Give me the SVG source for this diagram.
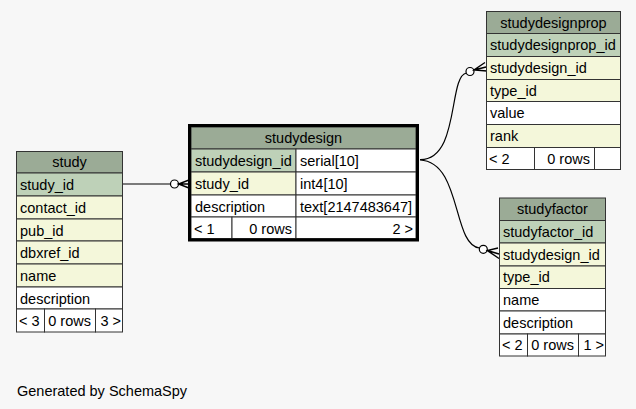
<svg xmlns="http://www.w3.org/2000/svg" width="636" height="409" viewBox="0 0 636 409">
<style>
.t{font-family:"Liberation Sans",Arial,sans-serif;font-size:14.5px;fill:#000}
.m{text-anchor:middle}
.e{text-anchor:end}
.c{stroke:#333;stroke-width:1}
.h{fill:#9bab96}
.p{fill:#bed1b8}
.f{fill:#f4f7da}
.w{fill:#ffffff}
.edge{fill:none;stroke:#000;stroke-width:1.2}
.dot{fill:#fff;stroke:#000;stroke-width:1.2}
.crow{fill:none;stroke:#000;stroke-width:1.4}
</style>
<rect x="0" y="0" width="636" height="409" fill="#f7f7f7"/>

<g id="connectors">
  <path class="edge" d="M123,184 L170.5,184"/>
  <circle class="dot" cx="174.5" cy="184" r="4"/>
  <path class="crow" d="M189,180 L178.5,184 L189,188 M178.5,184 L189,184"/>

  <path class="edge" d="M420,159.5 C460,160 448,76 466.5,73"/>
  <circle class="dot" cx="470" cy="71.5" r="4"/>
  <path class="crow" d="M485,62.5 L474,70 L487,71 M474,70 L486,67"/>

  <path class="edge" d="M420,160 C462,162 452,245 479.5,248"/>
  <circle class="dot" cx="483.3" cy="249.3" r="4"/>
  <path class="crow" d="M498,248 L487.3,250.5 L499,258.5 M487.3,250.5 L499,254"/>
</g>

<g id="study">
  <rect class="c h" x="16.5" y="151.5" width="106" height="21.5"/>
  <rect class="c p" x="16.5" y="173" width="106" height="23"/>
  <rect class="c f" x="16.5" y="196" width="106" height="23"/>
  <rect class="c f" x="16.5" y="219" width="106" height="22"/>
  <rect class="c f" x="16.5" y="241" width="106" height="23"/>
  <rect class="c f" x="16.5" y="264" width="106" height="23"/>
  <rect class="c w" x="16.5" y="287" width="106" height="22"/>
  <rect class="c w" x="16.5" y="309" width="28" height="23"/>
  <rect class="c w" x="44.5" y="309" width="51" height="23"/>
  <rect class="c w" x="95.5" y="309" width="27" height="23"/>
  <text class="t m" x="69.5" y="167">study</text>
  <text class="t" x="20" y="190">study_id</text>
  <text class="t" x="20" y="213">contact_id</text>
  <text class="t" x="20" y="235.5">pub_id</text>
  <text class="t" x="20" y="258">dbxref_id</text>
  <text class="t" x="20" y="281">name</text>
  <text class="t" x="20" y="303.5">description</text>
  <text class="t" x="19" y="326">&lt; 3</text>
  <text class="t e" x="91" y="326">0 rows</text>
  <text class="t e" x="121" y="326">3 &gt;</text>
</g>

<g id="studydesign">
  <rect class="c h" x="191" y="127" width="225" height="22"/>
  <rect class="c p" x="191" y="149" width="105" height="23"/>
  <rect class="c w" x="296" y="149" width="120" height="23"/>
  <rect class="c f" x="191" y="172" width="105" height="23"/>
  <rect class="c w" x="296" y="172" width="120" height="23"/>
  <rect class="c w" x="191" y="195" width="105" height="22"/>
  <rect class="c w" x="296" y="195" width="120" height="22"/>
  <rect class="c w" x="191" y="217" width="41" height="21.5"/>
  <rect class="c w" x="232" y="217" width="64" height="21.5"/>
  <rect class="c w" x="296" y="217" width="120" height="21.5"/>
  <rect x="189.5" y="125.5" width="228" height="114.5" fill="none" stroke="#000" stroke-width="3"/>
  <text class="t m" x="303.5" y="143">studydesign</text>
  <text class="t" x="195" y="166">studydesign_id</text>
  <text class="t" x="300" y="166">serial[10]</text>
  <text class="t" x="195" y="189">study_id</text>
  <text class="t" x="300" y="189">int4[10]</text>
  <text class="t" x="195" y="211.5">description</text>
  <text class="t" x="300" y="211.5">text[2147483647]</text>
  <text class="t" x="194" y="233.5">&lt; 1</text>
  <text class="t e" x="292" y="233.5">0 rows</text>
  <text class="t e" x="413" y="233.5">2 &gt;</text>
</g>

<g id="studydesignprop">
  <rect class="c h" x="486.5" y="11.5" width="134" height="22"/>
  <rect class="c p" x="486.5" y="33.5" width="134" height="23"/>
  <rect class="c f" x="486.5" y="56.5" width="134" height="23"/>
  <rect class="c f" x="486.5" y="79.5" width="134" height="22"/>
  <rect class="c w" x="486.5" y="101.5" width="134" height="23"/>
  <rect class="c f" x="486.5" y="124.5" width="134" height="23"/>
  <rect class="c w" x="486.5" y="147.5" width="48" height="22"/>
  <rect class="c w" x="534.5" y="147.5" width="60" height="22"/>
  <rect class="c w" x="594.5" y="147.5" width="26" height="22"/>
  <text class="t m" x="553.5" y="27.5">studydesignprop</text>
  <text class="t" x="490" y="50">studydesignprop_id</text>
  <text class="t" x="490" y="73">studydesign_id</text>
  <text class="t" x="490" y="95.5">type_id</text>
  <text class="t" x="490" y="118">value</text>
  <text class="t" x="490" y="141">rank</text>
  <text class="t" x="489" y="163.5">&lt; 2</text>
  <text class="t e" x="590" y="163.5">0 rows</text>
</g>

<g id="studyfactor">
  <rect class="c h" x="499.5" y="198" width="106" height="22.5"/>
  <rect class="c p" x="499.5" y="220.5" width="106" height="22.5"/>
  <rect class="c f" x="499.5" y="243" width="106" height="23"/>
  <rect class="c f" x="499.5" y="266" width="106" height="22.5"/>
  <rect class="c w" x="499.5" y="288.5" width="106" height="22.5"/>
  <rect class="c w" x="499.5" y="311" width="106" height="23"/>
  <rect class="c w" x="499.5" y="334" width="28" height="22"/>
  <rect class="c w" x="527.5" y="334" width="51" height="22"/>
  <rect class="c w" x="578.5" y="334" width="27" height="22"/>
  <text class="t m" x="552.5" y="214">studyfactor</text>
  <text class="t" x="503" y="237">studyfactor_id</text>
  <text class="t" x="503" y="259.5">studydesign_id</text>
  <text class="t" x="503" y="282">type_id</text>
  <text class="t" x="503" y="305">name</text>
  <text class="t" x="503" y="327.5">description</text>
  <text class="t" x="502" y="350">&lt; 2</text>
  <text class="t e" x="574" y="350">0 rows</text>
  <text class="t e" x="604" y="350">1 &gt;</text>
</g>

<text class="t" x="17" y="396">Generated by SchemaSpy</text>
</svg>
